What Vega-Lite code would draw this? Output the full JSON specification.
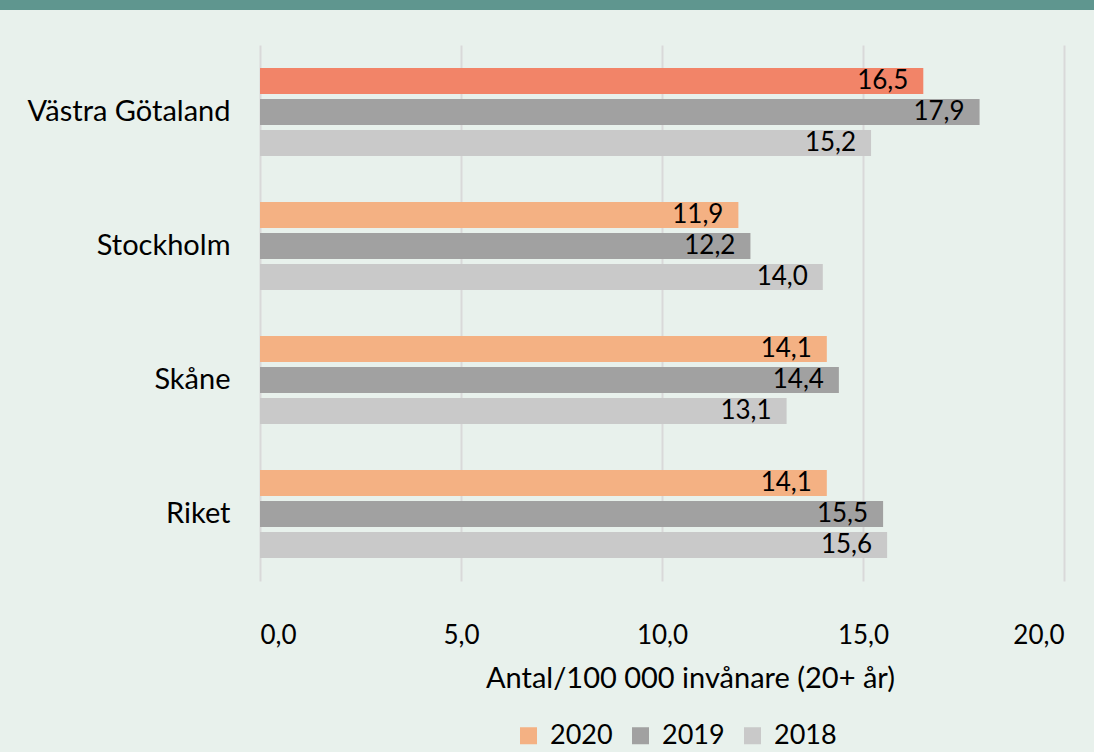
{
  "$schema": "https://vega.github.io/schema/vega-lite/v6.json",
  "background": "#e8f1ec",
  "padding": {"left": 0, "top": 0, "right": 0, "bottom": 6},
  "config": {
    "font": "Lato",
    "locale": {"number": {"decimal": ",", "thousands": " ", "grouping": [3], "currency": ["", " kr"]}},
    "view": {"stroke": null}
  },
  "spacing": 35,
  "vconcat": [
    {
      "width": 1094,
      "height": 10,
      "view": {"fill": "#5f968f", "stroke": null},
      "data": {"values": [{}]},
      "mark": {"type": "point", "opacity": 0},
      "encoding": {}
    },
    {
      "width": 1094,
      "height": 536,
      "data": {
        "values": [
          {"region": "Västra Götaland", "year": "2020", "value": 16.5},
          {"region": "Västra Götaland", "year": "2019", "value": 17.9},
          {"region": "Västra Götaland", "year": "2018", "value": 15.2},
          {"region": "Stockholm", "year": "2020", "value": 11.9},
          {"region": "Stockholm", "year": "2019", "value": 12.2},
          {"region": "Stockholm", "year": "2018", "value": 14.0},
          {"region": "Skåne", "year": "2020", "value": 14.1},
          {"region": "Skåne", "year": "2019", "value": 14.4},
          {"region": "Skåne", "year": "2018", "value": 13.1},
          {"region": "Riket", "year": "2020", "value": 14.1},
          {"region": "Riket", "year": "2019", "value": 15.5},
          {"region": "Riket", "year": "2018", "value": 15.6}
        ]
      },
      "encoding": {
        "y": {
          "field": "region", "type": "nominal",
          "sort": ["Västra Götaland", "Stockholm", "Skåne", "Riket"],
          "scale": {"paddingInner": 0.343, "paddingOuter": 0.172},
          "axis": {"title": null, "domain": false, "ticks": false, "labelFontSize": 29, "labelColor": "#000000", "labelPadding": 30, "labelLimit": 400, "offset": -260, "minExtent": 0}
        },
        "yOffset": {
          "field": "year", "type": "nominal",
          "sort": ["2020", "2019", "2018"],
          "scale": {"paddingInner": 0.16, "paddingOuter": 0}
        },
        "x": {
          "field": "value", "type": "quantitative",
          "scale": {"domain": [0, 20], "range": [260, 1064]},
          "axis": {
            "values": [0, 5, 10, 15, 20], "format": ".1f",
            "grid": true, "gridColor": "#d9d9d9", "gridWidth": 2,
            "domain": false, "ticks": false,
            "labelFontSize": 26, "labelColor": "#000000", "labelPadding": 41,
            "title": "Antal/100 000 invånare (20+ år)", "titleFontSize": 29, "titleFontWeight": "normal", "titleColor": "#000000",
            "titlePadding": 16, "titleX": 690
          }
        }
      },
      "layer": [
        {
          "mark": {"type": "bar"},
          "encoding": {
            "color": {
              "condition": {"test": "datum.region === 'Västra Götaland' && datum.year === '2020'", "value": "#f28468"},
              "field": "year", "type": "nominal",
              "sort": ["2020", "2019", "2018"],
              "scale": {"domain": ["2020", "2019", "2018"], "range": ["#f4b183", "#a1a1a1", "#c9c9c9"]},
              "legend": {
                "orient": "none", "legendX": 515, "legendY": 722, "direction": "horizontal",
                "title": null, "symbolType": "square", "symbolSize": 289, "symbolStrokeWidth": 0,
                "labelFontSize": 27, "labelColor": "#000000", "columnPadding": 14, "labelOffset": 8
              }
            }
          }
        },
        {
          "mark": {"type": "text", "align": "right", "baseline": "middle", "dx": -15, "fontSize": 26, "color": "#000000"},
          "encoding": {
            "text": {"field": "value", "type": "quantitative", "format": ".1f"}
          }
        }
      ]
    }
  ]
}
